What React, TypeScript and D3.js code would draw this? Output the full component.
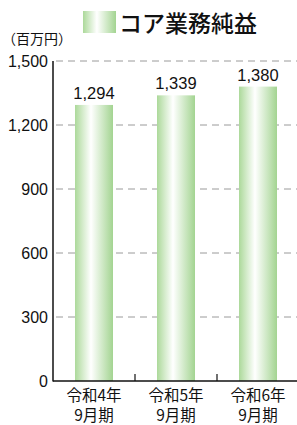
import * as d3 from "d3";
import { useEffect, useRef } from "react";

const categories = ["令和4年\n9月期", "令和5年\n9月期", "令和6年\n9月期"];
const values = [1294, 1339, 1380];
const yTicks = [0, 300, 600, 900, 1200, 1500];
const seriesName = "コア業務純益";
const unitLabel = "（百万円）";

const W = 297;
const H = 425;
const JP = "'Noto Sans CJK JP', 'Noto Sans', sans-serif";
const NUM = "'Liberation Sans', Arial, sans-serif";

export default function App() {
	const ref = useRef<SVGSVGElement | null>(null);

	useEffect(() => {
		const svg = d3.select(ref.current);
		svg.selectAll("*").remove();

		const left = 53;
		const right = 299;
		const top = 61;
		const bottom = 381;

		const x = d3.scaleBand().domain(categories).range([left, right]).paddingInner(0).paddingOuter(0);
		const y = d3.scaleLinear().domain([0, 1500]).range([bottom, top]);
		const barW = 38;

		// gradient
		const defs = svg.append("defs");
		const grad = defs.append("linearGradient").attr("id", "barGrad").attr("x1", "0").attr("x2", "1").attr("y1", "0").attr("y2", "0");
		grad.append("stop").attr("offset", "0%").attr("stop-color", "#acd99a");
		grad.append("stop").attr("offset", "42%").attr("stop-color", "#ffffff");
		grad.append("stop").attr("offset", "100%").attr("stop-color", "#a3d491");

		// gridlines
		svg.append("g")
			.selectAll("line")
			.data(yTicks.filter(d => d > 0))
			.join("line")
			.attr("x1", left)
			.attr("x2", W)
			.attr("y1", d => y(d))
			.attr("y2", d => y(d))
			.attr("stroke", "#9a9a9a")
			.attr("stroke-width", 1)
			.attr("stroke-dasharray", "7,5")
			.attr("stroke-dashoffset", -3);

		// bars
		svg.append("g")
			.selectAll("rect")
			.data(values)
			.join("rect")
			.attr("x", (d, i) => x(categories[i])! + x.bandwidth() / 2 - barW / 2)
			.attr("width", barW)
			.attr("y", d => y(d))
			.attr("height", d => bottom - y(d))
			.attr("fill", "url(#barGrad)");

		// value labels
		svg.append("g")
			.selectAll("text")
			.data(values)
			.join("text")
			.attr("x", (d, i) => x(categories[i])! + x.bandwidth() / 2)
			.attr("y", d => y(d) - 6)
			.attr("text-anchor", "middle")
			.attr("font-family", NUM)
			.attr("font-size", 16.5)
			.attr("fill", "#111")
			.text(d => d3.format(",")(d));

		// y axis
		svg.append("line").attr("x1", left).attr("x2", left).attr("y1", top).attr("y2", bottom + 0.5).attr("stroke", "#111").attr("stroke-width", 1.5);
		svg.append("g")
			.selectAll("text")
			.data(yTicks)
			.join("text")
			.attr("x", left - 5)
			.attr("y", d => y(d) + 5.5)
			.attr("text-anchor", "end")
			.attr("font-family", NUM)
			.attr("font-size", 16)
			.attr("fill", "#111")
			.text(d => d3.format(",")(d));

		// x axis
		svg.append("line").attr("x1", left).attr("x2", W).attr("y1", bottom).attr("y2", bottom).attr("stroke", "#111").attr("stroke-width", 1.5);
		svg.append("g")
			.selectAll("line")
			.data(categories.slice(1))
			.join("line")
			.attr("x1", d => x(d)!)
			.attr("x2", d => x(d)!)
			.attr("y1", bottom)
			.attr("y2", bottom - 7)
			.attr("stroke", "#111")
			.attr("stroke-width", 1.2);

		// category labels, two lines each
		categories.forEach(c => {
			const cx = x(c)! + x.bandwidth() / 2;
			c.split("\n").forEach((s, i) => {
				svg.append("text")
					.attr("x", cx)
					.attr("y", 401 + i * 20)
					.attr("text-anchor", "middle")
					.attr("font-family", JP)
					.attr("font-size", 15.5)
					.attr("fill", "#111")
					.text(s);
			});
		});

		// unit label
		svg.append("text")
			.attr("x", 2)
			.attr("y", 44)
			.attr("font-family", JP)
			.attr("font-size", 14)
			.attr("fill", "#111")
			.text(unitLabel);

		// legend
		svg.append("rect").attr("x", 83).attr("y", 11).attr("width", 33).attr("height", 22).attr("fill", "url(#barGrad)");
		svg.append("text")
			.attr("x", 119)
			.attr("y", 32)
			.attr("font-family", JP)
			.attr("font-size", 23)
			.attr("font-weight", 500)
			.attr("fill", "#111")
			.text(seriesName);
	}, []);

	return <svg ref={ref} width={W} height={H} style={{ position: "absolute", left: 0, top: 0, background: "#fff" }} />;
}
